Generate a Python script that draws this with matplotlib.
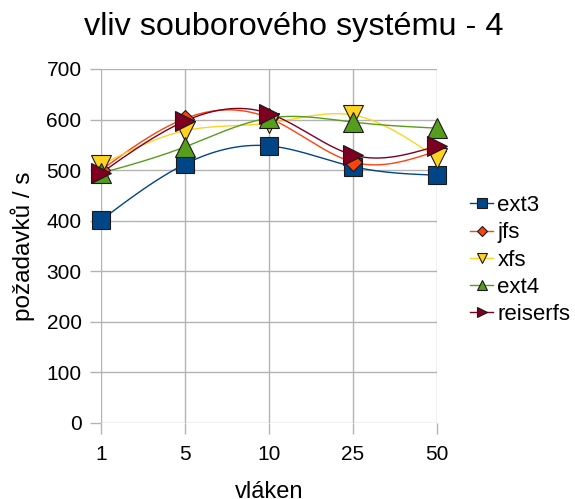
import numpy as np
import matplotlib
matplotlib.use("Agg")
import matplotlib.pyplot as plt
from matplotlib.lines import Line2D

categories = ["1", "5", "10", "25", "50"]
ext3 = [401, 512, 548, 507, 490]
jfs = [500, 602, 603, 516, 538]
xfs = [510, 578, 593, 609, 524]
ext4 = [494, 546, 603, 595, 583]
reiserfs = [494, 597, 612, 530, 548]

series = [
    ("ext3", ext3, "#004586", "s", 13.5),
    ("jfs", jfs, "#ff420e", "D", 9.5),
    ("xfs", xfs, "#ffd320", "v", 14),
    ("ext4", ext4, "#579d1c", "^", 14),
    ("reiserfs", reiserfs, "#7e0021", ">", 14),
]

plt.rcParams['font.family'] = ['Liberation Sans', 'DejaVu Sans']


def natural_spline(x, y, n=200):
    x = np.asarray(x, float)
    y = np.asarray(y, float)
    k = len(x)
    h = np.diff(x)
    A = np.zeros((k, k))
    b = np.zeros(k)
    A[0, 0] = 1
    A[-1, -1] = 1
    for i in range(1, k - 1):
        A[i, i - 1] = h[i - 1]
        A[i, i] = 2 * (h[i - 1] + h[i])
        A[i, i + 1] = h[i]
        b[i] = 3 * ((y[i + 1] - y[i]) / h[i] - (y[i] - y[i - 1]) / h[i - 1])
    c = np.linalg.solve(A, b)
    xs = np.linspace(x[0], x[-1], n)
    ys = np.empty_like(xs)
    for j, xv in enumerate(xs):
        i = min(np.searchsorted(x, xv, side='right') - 1, k - 2)
        dx = xv - x[i]
        bb = (y[i + 1] - y[i]) / h[i] - h[i] * (2 * c[i] + c[i + 1]) / 3
        d = (c[i + 1] - c[i]) / (3 * h[i])
        ys[j] = y[i] + bb * dx + c[i] * dx ** 2 + d * dx ** 3
    return xs, ys


fig = plt.figure(figsize=(5.75, 4.99), dpi=100)
ax = fig.add_axes([101 / 575, 76 / 499, 336 / 575, 354 / 499])

xpos = np.arange(len(categories))
handles = []
for name, vals, col, mk, ms in series:
    xs, ys = natural_spline(xpos, vals)
    ax.plot(xs, ys, color=col, lw=1.0, zorder=2)
for name, vals, col, mk, ms in series:
    ax.plot(xpos, vals, linestyle='none', marker=mk, markersize=ms,
            markerfacecolor=col, markeredgecolor='#1a1a1a', markeredgewidth=0.8,
            zorder=3, clip_on=False)
    handles.append(Line2D([0], [0], color=col, lw=1.0, marker=mk,
                          markersize=ms * 0.55, markerfacecolor=col,
                          markeredgecolor='#1a1a1a', markeredgewidth=0.8, label=name))

ax.set_xlim(0, len(categories) - 1)
ax.set_ylim(0, 700)
ax.set_yticks(np.arange(0, 701, 100))
ax.set_xticks(xpos)
ax.set_xticklabels(categories)
ax.grid(True, color='#b3b3b3', lw=1.0)
ax.set_axisbelow(True)
for s in ax.spines.values():
    s.set_visible(False)
ax.tick_params(axis='both', colors='#b3b3b3', labelcolor='black', labelsize=15, length=8, width=1.0)
ax.tick_params(axis='x', pad=8)
ax.tick_params(axis='y', pad=6)

ax.set_xlabel("vláken", fontsize=17, labelpad=12)
ax.set_ylabel("požadavků / s", fontsize=17.5, labelpad=8)
fig.text(0.51, 1 - 35 / 499, "vliv souborového systému - 4", ha='center', va='baseline', fontsize=23.3)

fig.legend(handles=handles, loc='center left', bbox_to_anchor=(470 / 575, 1 - 260 / 499),
           frameon=False, fontsize=16, handlelength=1.05, handletextpad=0.18,
           labelspacing=0.28, borderaxespad=0, borderpad=0)

fig.savefig("out.png", dpi=100)
